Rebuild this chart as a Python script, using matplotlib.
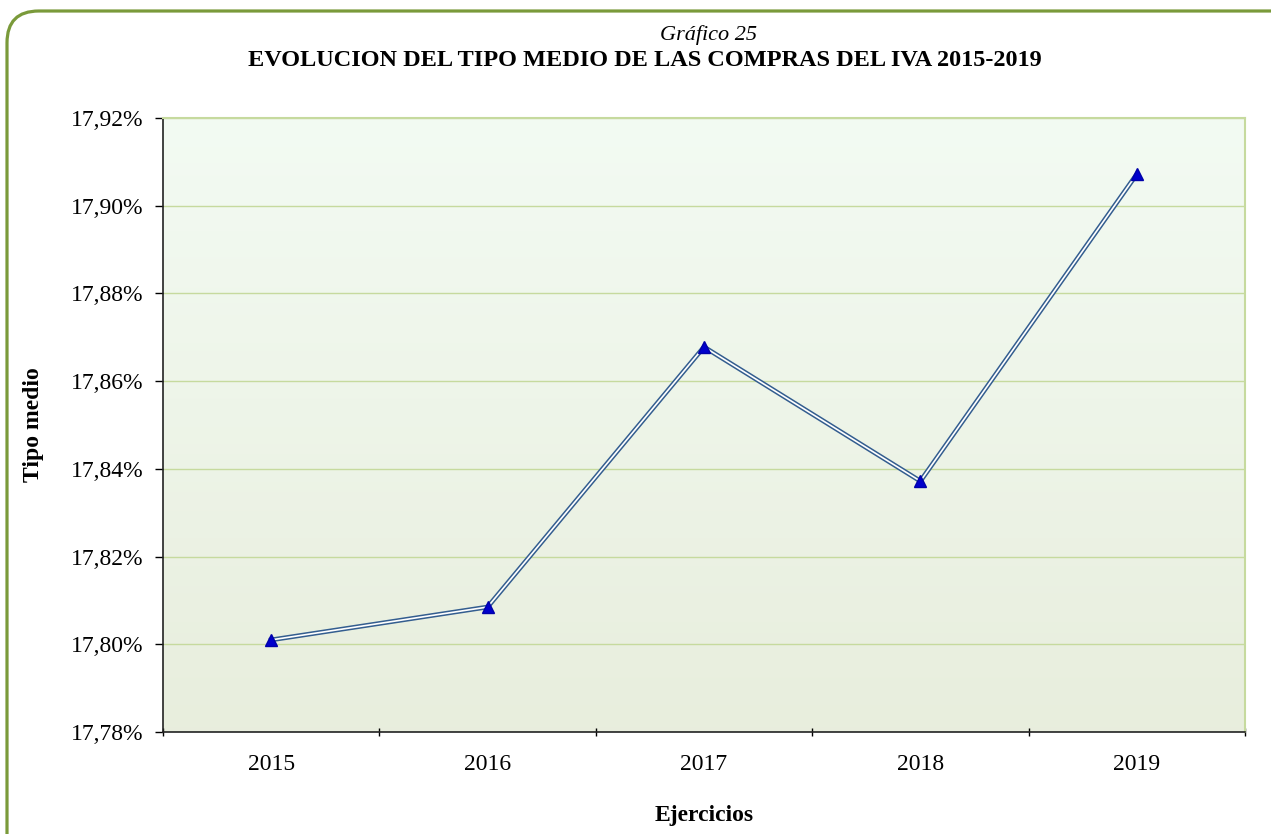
import numpy as np
import matplotlib.pyplot as plt
import matplotlib.patheffects as pe
from matplotlib.patches import FancyBboxPatch
from matplotlib.ticker import FuncFormatter, MultipleLocator

years = ["2015", "2016", "2017", "2018", "2019"]
tipo_medio = [17.801, 17.8085, 17.8678, 17.8372, 17.9072]

plt.rcParams["font.family"] = ["Liberation Serif", "DejaVu Serif"]

fig = plt.figure(figsize=(12.71, 8.34), dpi=100)
W, H = 1271, 834

# rounded outer frame (cut off at right and bottom)
frame = FancyBboxPatch((7 / W, -40 / H), (W + 40) / W, (H - 11 + 40) / H,
                       boxstyle="round,pad=0,rounding_size=0.025",
                       transform=fig.transFigure, facecolor="white",
                       edgecolor="#7A9A3A", linewidth=2.3, mutation_aspect=W / H,
                       zorder=-10)
fig.patches.append(frame)

ax = fig.add_axes([163 / W, 1 - 732 / H, (1245 - 163) / W, (732 - 118) / H])
ax.set_zorder(5)

# background gradient
top = np.array([0.953, 0.984, 0.953])
bot = np.array([0.910, 0.933, 0.867])
t = np.linspace(0, 1, 256)[:, None]
grad = (top * (1 - t) + bot * t)[:, None, :]
ax.imshow(grad, extent=[0, 1, 0, 1], transform=ax.transAxes, aspect="auto", zorder=0)

# double line: dark stroke with a white core
x = np.arange(len(years))
line, = ax.plot(x, tipo_medio, color="#335D8F", linewidth=3.4, zorder=3,
                solid_joinstyle="miter")
line.set_path_effects([pe.Stroke(linewidth=3.4, foreground="#335D8F"),
                       pe.Stroke(linewidth=1.2, foreground="white")])
ax.plot(x, tipo_medio, linestyle="none", marker="^", markersize=8,
        color="#0000CC", markeredgecolor="#0000AA", zorder=4)

ax.set_xlim(-0.5, len(years) - 0.5)
ax.set_ylim(17.78, 17.92)
ax.yaxis.set_major_locator(MultipleLocator(0.02))
ax.yaxis.set_major_formatter(FuncFormatter(lambda v, p: f"{v:.2f}%".replace(".", ",")))
ax.grid(axis="y", color="#C6DA9E", linewidth=1.0, zorder=1)
ax.set_axisbelow(True)

ax.set_xticks(x)
ax.set_xticklabels(years)
ax.set_xticks(np.arange(-0.5, len(years)), minor=True)
ax.tick_params(axis="x", which="major", length=0, pad=16, labelsize=17)
ax.tick_params(axis="x", which="minor", length=6, direction="inout", width=1)
ax.tick_params(axis="y", length=6, direction="out", labelsize=17, pad=8, width=1)

for s in ["top", "right"]:
    ax.spines[s].set_color("#C6DA9E")
    ax.spines[s].set_linewidth(1.5)
for s in ["left", "bottom"]:
    ax.spines[s].set_color("#222222")
    ax.spines[s].set_linewidth(1.2)

ax.set_ylabel("Tipo medio", fontsize=17, fontweight="bold")
ax.yaxis.set_label_coords((33 - 163) / (1245 - 163), 0.5)
ax.set_xlabel("Ejercicios", fontsize=17, fontweight="bold")
ax.xaxis.set_label_coords(0.5, -(815 - 732) / (732 - 118))
ax.xaxis.label.set_va("center")
ax.yaxis.label.set_va("center")

fig.text(708 / W, 1 - 35 / H, "Gráfico 25", ha="center", va="center",
         fontsize=16, style="italic")
fig.text(645 / W, 1 - 60 / H, "EVOLUCION DEL TIPO MEDIO DE LAS COMPRAS DEL IVA 2015-2019",
         ha="center", va="center", fontsize=17.5, fontweight="bold")

fig.savefig("out.png", dpi=100)
